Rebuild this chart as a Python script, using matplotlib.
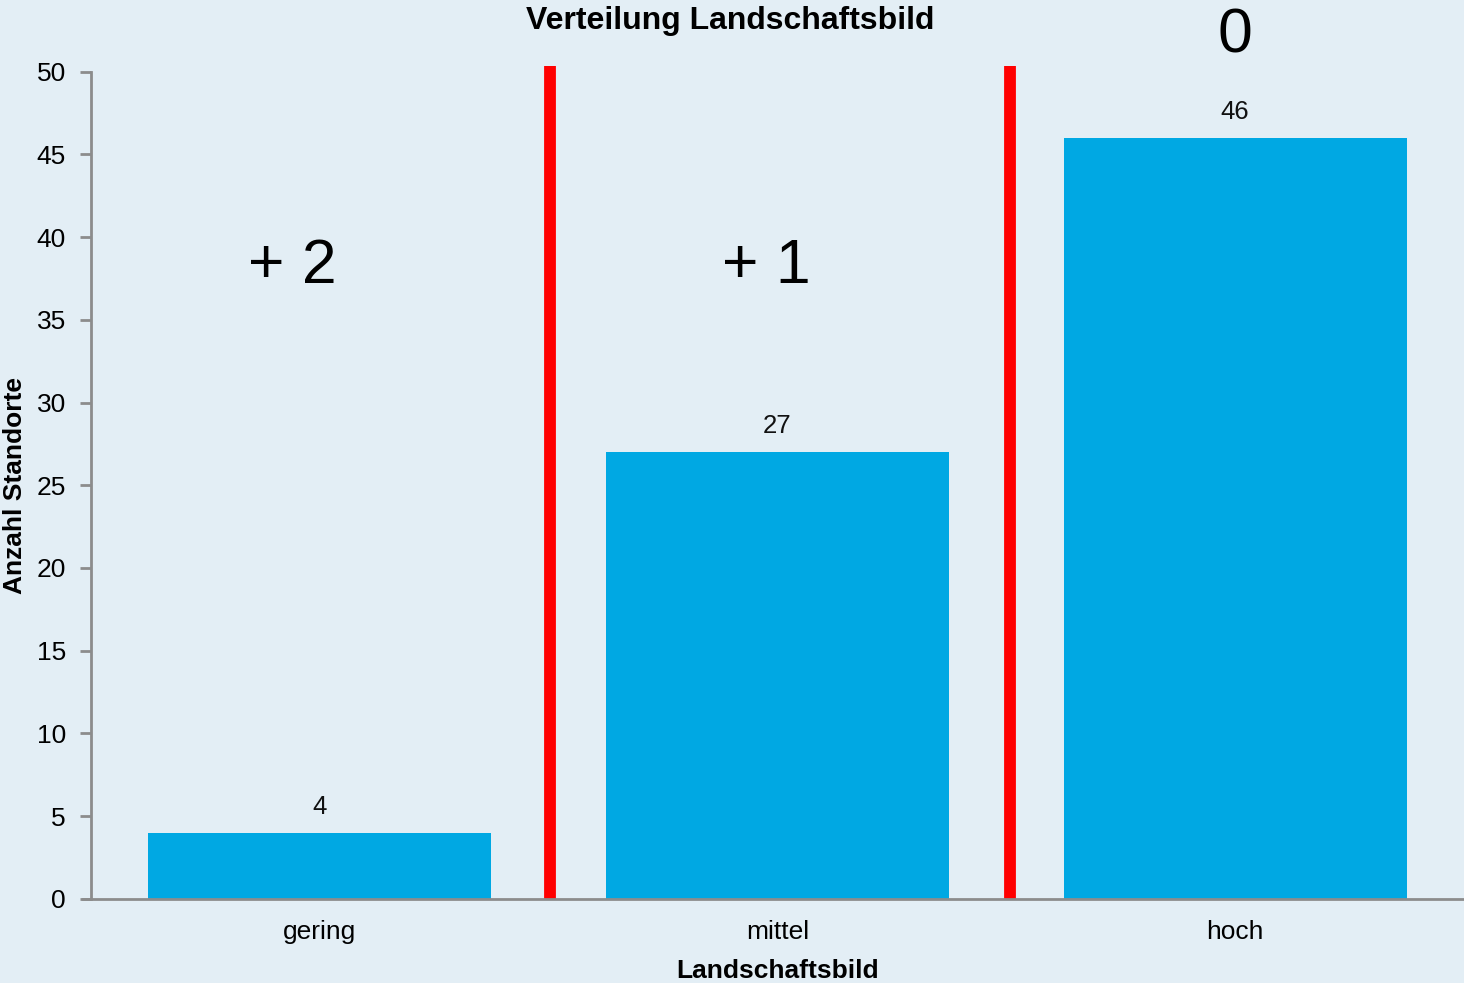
import matplotlib
matplotlib.use("Agg")
import matplotlib.pyplot as plt

# Data
categories = ["gering", "mittel", "hoch"]
counts = [4, 27, 46]
zone_labels = ["+ 2", "+ 1", "0"]
zone_x = [-0.06, 0.975, 2.0]
zone_y = [38.2, 38.2, 52.15]
separators = [0.503, 1.508]
y_ticks = [0, 5, 10, 15, 20, 25, 30, 35, 40, 45, 50]

BG = "#e3eef5"
BAR = "#00a8e3"
AXIS = "#8c8c8c"

plt.rcParams["font.family"] = ["Liberation Sans", "DejaVu Sans"]

fig = plt.figure(figsize=(14.64, 9.83), dpi=100, facecolor=BG)
ax = fig.add_axes([91 / 1464, 1 - 898.7 / 983, 1 - 91 / 1464, (898.7 - 71.7) / 983])
ax.set_facecolor(BG)

x = list(range(len(categories)))
bars = ax.bar(x, counts, width=0.75, color=BAR, zorder=2)

for xi, v in zip(x, counts):
    ax.annotate(str(v), (xi, v), xytext=(0, 10), textcoords="offset points",
                ha="center", va="bottom", fontsize=18.5, color="#111111")

for s in separators:
    ax.plot([s, s], [0, 50.35], color="#ff0000", linewidth=8.5,
            solid_capstyle="butt", clip_on=False, zorder=3)

for lbl, zx, zy in zip(zone_labels, zone_x, zone_y):
    ax.text(zx, zy, lbl, ha="center", va="center", fontsize=45,
            color="black", clip_on=False)

ax.set_xlim(-0.5, 2.5)
ax.set_ylim(0, 50)
ax.set_yticks(y_ticks)
ax.set_xticks(x)
ax.set_xticklabels(categories)

for side in ("top", "right"):
    ax.spines[side].set_visible(False)
for side in ("left", "bottom"):
    ax.spines[side].set_color(AXIS)
    ax.spines[side].set_linewidth(2)
ax.spines["bottom"].set_bounds(-0.5 - 8 / 457.7, 2.5)
ax.spines["bottom"].set_zorder(4)

ax.tick_params(axis="y", direction="out", length=8, width=2, color=AXIS,
               labelsize=19, pad=10)
ax.tick_params(axis="x", length=0, labelsize=19, pad=15)

ax.set_xlabel("Landschaftsbild", fontsize=19, fontweight="bold", labelpad=11)
ax.set_ylabel("Anzahl Standorte", fontsize=19, fontweight="bold")
ax.yaxis.set_label_coords(-(91 - 27) / 1373, 0.5)
fig.text(730 / 1464, 1 - 21 / 983, "Verteilung Landschaftsbild", ha="center",
         va="center", fontsize=23, fontweight="bold")

fig.savefig("out.png", dpi=100, facecolor=BG)
